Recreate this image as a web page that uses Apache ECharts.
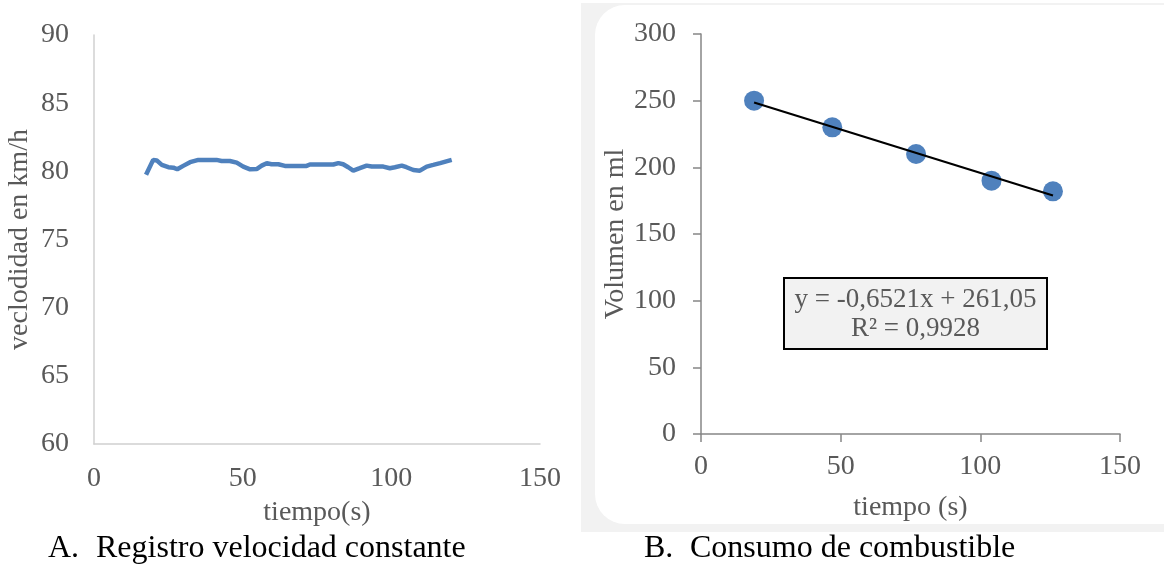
<!DOCTYPE html>
<html><head><meta charset="utf-8">
<script src="https://cdn.jsdelivr.net/npm/echarts@6/dist/echarts.min.js"></script>
<style>html,body{margin:0;padding:0;background:#fff}#c{width:1164px;height:567px}</style>
</head><body><div id="c"></div>
<script>
// Chart A: speed record
const timeA = [17.5, 19.9, 21.1, 22.8, 25, 26.7, 28, 30, 32.3, 35.1, 41.2, 42.9, 45.7, 48, 50.2, 52.5, 54.7, 56.4, 58.1, 59.7, 62, 64.2, 71.5, 72.6, 80.5, 82.2, 83.8, 85.5, 87.2, 89.4, 91.7, 93.4, 97.3, 99.5, 101.2, 103.5, 105.1, 107.4, 109.6, 111.9, 114.1, 116.4, 120.3];
const speedA = [79.75, 80.84, 80.8, 80.47, 80.3, 80.27, 80.15, 80.4, 80.67, 80.84, 80.84, 80.76, 80.76, 80.64, 80.35, 80.15, 80.17, 80.42, 80.6, 80.52, 80.52, 80.4, 80.4, 80.5, 80.5, 80.6, 80.52, 80.3, 80.05, 80.23, 80.42, 80.35, 80.35, 80.23, 80.3, 80.42, 80.3, 80.1, 80.05, 80.35, 80.47, 80.6, 80.84];
// Chart B: fuel consumption
const timeB = [19, 47, 77, 104, 126];
const volumeB = [250, 230, 210, 190, 182];
const trendX = [19, 126];
const trendY = [248.66, 178.88];
const eqLine1 = 'y = -0,6521x + 261,05';
const eqLine2 = 'R\u00b2 = 0,9928';
const captionA = ['A.', 'Registro velocidad constante'];
const captionB = ['B.', 'Consumo de combustible'];

const FONT = '"Liberation Serif", "Times New Roman", serif';
const LBL = '#595959';
const FS = 28;

const chart = echarts.init(document.getElementById('c'), null, {renderer: 'canvas'});
const lbl = {color: LBL, fontSize: FS, fontFamily: FONT};
chart.setOption({
  animation: false,
  backgroundColor: '#ffffff',
  grid: [
    {left: 94, top: 35, width: 446, height: 409, outerBoundsMode: 'none'},
    {left: 701, top: 34, width: 419, height: 400, outerBoundsMode: 'none'}
  ],
  xAxis: [
    {gridIndex: 0, type: 'value', min: 0, max: 150, interval: 50,
     axisLine: {show: true, lineStyle: {color: '#d0d0d0', width: 1.5}},
     axisTick: {show: false}, splitLine: {show: false},
     axisLabel: Object.assign({margin: 21}, lbl),
     name: 'tiempo(s)', nameLocation: 'middle', nameGap: 55,
     nameTextStyle: {color: LBL, fontSize: FS, fontFamily: FONT}},
    {gridIndex: 1, type: 'value', min: 0, max: 150, interval: 50,
     axisLine: {show: true, lineStyle: {color: '#868686', width: 1.5}},
     axisTick: {show: true, length: 8, lineStyle: {color: '#868686', width: 1.5}},
     splitLine: {show: false},
     axisLabel: Object.assign({margin: 19}, lbl),
     name: 'tiempo (s)', nameLocation: 'middle', nameGap: 60,
     nameTextStyle: {color: LBL, fontSize: FS, fontFamily: FONT}},
  ],
  yAxis: [
    {gridIndex: 0, type: 'value', min: 60, max: 90, interval: 5,
     axisLine: {show: true, lineStyle: {color: '#d0d0d0', width: 1.5}},
     axisTick: {show: false}, splitLine: {show: false},
     axisLabel: Object.assign({margin: 25}, lbl),
     name: 'veclodidad en km/h', nameLocation: 'middle', nameGap: 60,
     nameTextStyle: {color: LBL, fontSize: FS, fontFamily: FONT}},
    {gridIndex: 1, type: 'value', min: 0, max: 300, interval: 50,
     axisLine: {show: true, lineStyle: {color: '#868686', width: 1.5}},
     axisTick: {show: true, length: 8, lineStyle: {color: '#868686', width: 1.5}},
     splitLine: {show: false},
     axisLabel: Object.assign({margin: 25}, lbl),
     name: 'Volumen en ml', nameLocation: 'middle', nameGap: 71,
     nameTextStyle: {color: LBL, fontSize: FS, fontFamily: FONT}}
  ],
  series: [
    {type: 'line', xAxisIndex: 0, yAxisIndex: 0, showSymbol: false,
     data: timeA.map((t, i) => [t, speedA[i]]),
     lineStyle: {color: '#4f81bd', width: 4.5}, z: 3},
    {type: 'scatter', xAxisIndex: 1, yAxisIndex: 1, symbol: 'circle', symbolSize: 20,
     data: timeB.map((t, i) => [t, volumeB[i]]),
     itemStyle: {color: '#4f81bd', opacity: 1}, z: 3},
    {type: 'line', xAxisIndex: 1, yAxisIndex: 1, showSymbol: false,
     data: trendX.map((t, i) => [t, trendY[i]]),
     lineStyle: {color: '#000000', width: 2.2}, z: 4}
  ],
  graphic: [
    {type: 'rect', z: -10, silent: true, shape: {x: 581, y: 3, width: 600, height: 529}, style: {fill: '#f2f2f2'}},
    {type: 'rect', z: -9, silent: true, shape: {x: 595, y: 5, width: 600, height: 519, r: 30}, style: {fill: '#ffffff'}},
    {type: 'rect', z: 10, shape: {x: 784, y: 278, width: 263, height: 71}, style: {fill: '#f2f2f2', stroke: '#000000', lineWidth: 2}},
    {type: 'text', z: 11, x: 915.5, y: 300, style: {text: eqLine1, fill: LBL, font: '27px ' + FONT, textAlign: 'center', textVerticalAlign: 'middle'}},
    {type: 'text', z: 11, x: 915.5, y: 329, style: {text: eqLine2, fill: LBL, font: '27px ' + FONT, textAlign: 'center', textVerticalAlign: 'middle'}},
    {type: 'text', x: 48, y: 549, style: {text: captionA[0], fill: '#000', font: '32px ' + FONT, textAlign: 'left', textVerticalAlign: 'middle'}},
    {type: 'text', x: 96, y: 549, style: {text: captionA[1], fill: '#000', font: '32px ' + FONT, textAlign: 'left', textVerticalAlign: 'middle'}},
    {type: 'text', x: 644, y: 549, style: {text: captionB[0], fill: '#000', font: '32px ' + FONT, textAlign: 'left', textVerticalAlign: 'middle'}},
    {type: 'text', x: 690, y: 549, style: {text: captionB[1], fill: '#000', font: '32px ' + FONT, textAlign: 'left', textVerticalAlign: 'middle'}}
  ]
});
</script>
</body></html>
